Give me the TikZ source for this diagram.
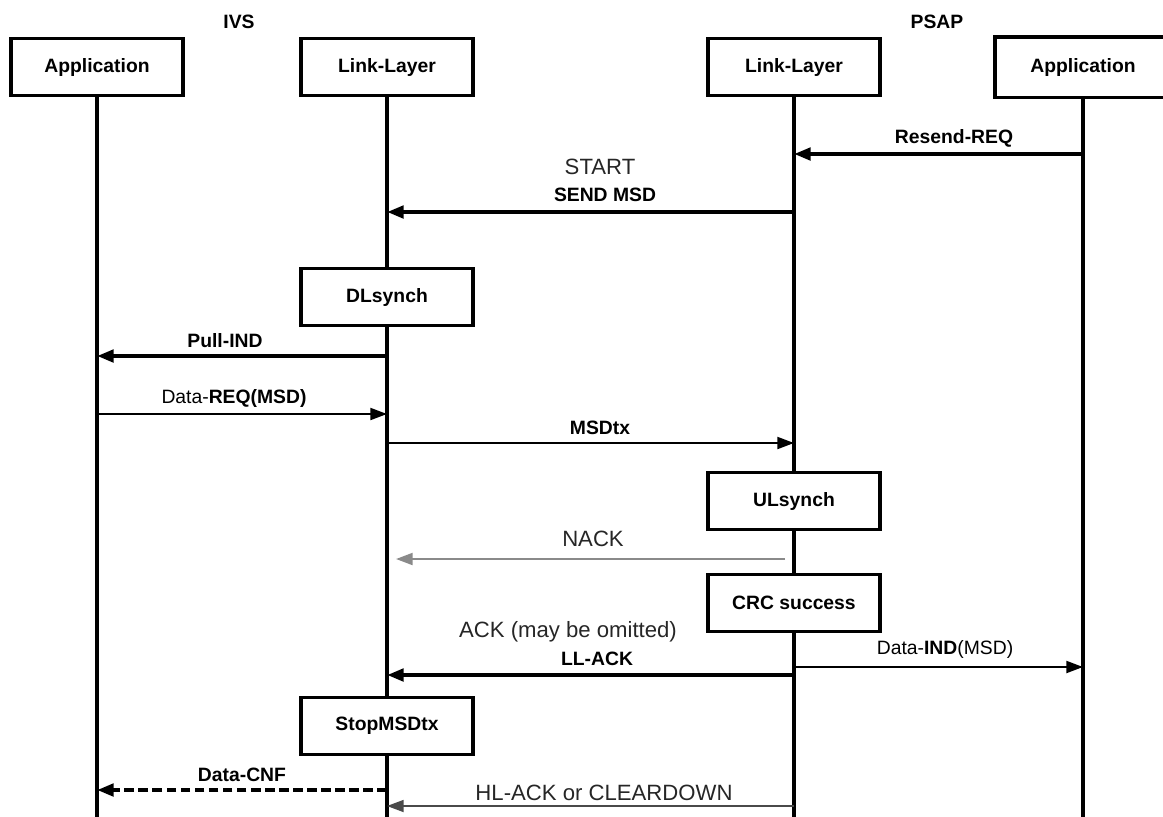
\documentclass[tikz,border=0pt]{standalone}
\usepackage{fontspec}
\setmainfont{Liberation Sans}
\usepackage{tikz}
\usetikzlibrary{calc,positioning,arrows.meta}
\usepackage{xcolor}
\definecolor{nackgray}{HTML}{8A8A8A}
\definecolor{hlgray}{HTML}{4A4A4A}
\definecolor{txtgray}{HTML}{262626}

\tikzset{
  layerbox/.style={draw, line width=2pt, fill=white, minimum width=3.45cm,
    minimum height=1.14cm, font=\bfseries\fontsize{11}{13}\selectfont},
  lifeline/.style={line width=2pt},
  msgthick/.style={line width=2.3pt, -{Triangle[length=9.5pt,width=7pt]}},
  msgthin/.style={line width=1.3pt, -{Triangle[length=9.5pt,width=6.8pt]}},
  lbl/.style={font=\bfseries\fontsize{11}{13}\selectfont, inner sep=0pt},
  lblreg/.style={font=\fontsize{12.6}{14}\selectfont, text=txtgray, inner sep=0pt}
}

\begin{document}
\begin{tikzpicture}[x=0.02cm, y=-0.02cm]
\clip (0,0) rectangle (1163,816);

%====================================================
% ENTIDADES Y LINEAS DE VIDA
%====================================================
\node[lbl] (ivs) at (239,22) {IVS};
\node[lbl] (psap) at (937,22) {PSAP};

\node[layerbox] (appI) at (97,67) {Application};
\node[layerbox] (llI) at (387,67) {Link-Layer};
\node[layerbox] (llP) at (794,67) {Link-Layer};
\node[layerbox, draw=none] (appP) at (1083,67) {Application};
\draw[line width=2pt] (appP.north west) rectangle ([xshift=0.5cm]appP.south east);

\coordinate (appIend) at (97,820);
\coordinate (llIend) at (387,820);
\coordinate (llPend) at (794,820);
\coordinate (appPend) at (1083,820);

\draw[lifeline] (appI.south) -- (appIend);
\draw[lifeline] (llI.south) -- (llIend);
\draw[lifeline] (llP.south) -- (llPend);
\draw[lifeline] (appP.south) -- (appPend);

%====================================================
% ESTADOS
%====================================================
\node[layerbox] (dlsynch) at (387,297) {DLsynch};
\node[layerbox] (ulsynch) at (794,501) {ULsynch};
\node[layerbox] (crc) at (794,603) {CRC success};
\node[layerbox] (stopmsd) at (387,726) {StopMSDtx};

%====================================================
% MENSAJES
%====================================================
\coordinate (resendA) at (1083,154); \coordinate (resendB) at (794,154);
\coordinate (sendA) at (794,212);    \coordinate (sendB) at (387,212);
\coordinate (pullA) at (387,356);    \coordinate (pullB) at (97,356);
\coordinate (dreqA) at (97,414);     \coordinate (dreqB) at (387,414);
\coordinate (msdtxA) at (387,443);   \coordinate (msdtxB) at (794,443);
\coordinate (nackA) at (785,559);    \coordinate (nackB) at (396,559);
\coordinate (dindA) at (794,667);    \coordinate (dindB) at (1083,667);
\coordinate (llackA) at (794,675);   \coordinate (llackB) at (387,675);
\coordinate (cnfA) at (387,790);     \coordinate (cnfB) at (97,790);
\coordinate (hlackA) at (794,806);   \coordinate (hlackB) at (387,806);

\draw[msgthick] (resendA) -- (resendB);
\draw[msgthick] (sendA) -- (sendB);
\draw[msgthick] (pullA) -- (pullB);
\draw[msgthin] (dreqA) -- (dreqB);
\draw[msgthin] (msdtxA) -- (msdtxB);
\draw[msgthin, nackgray] (nackA) -- (nackB);
\draw[msgthin] (dindA) -- (dindB);
\draw[msgthick] (llackA) -- (llackB);
\draw[msgthick, dash pattern=on 5.5pt off 2.5pt] (cnfA) -- (cnfB);
\draw[msgthin, hlgray, line width=1.1pt] (hlackA) -- (hlackB);

% etiquetas
\node[lbl] (resendL) at (954,138) {Resend-REQ};
\node[lblreg] (startL) at (600,167) {START};
\node[lbl] (sendL) at (605,195) {SEND MSD};
\node[lbl] (pullL) at (225,341) {Pull-IND};
\node[lbl] (dreqL) at (234,398) {\mdseries Data-\bfseries REQ(MSD)};
\node[lbl] (msdtxL) at (600,428) {MSDtx};
\node[lblreg] (nackL) at (593,539) {NACK};
\node[lblreg] (ackL) at (568,632) {ACK (may be omitted)};
\node[lbl] (llackL) at (597,659) {LL-ACK};
\node[lbl] (dindL) at (945,649) {\mdseries Data-\bfseries IND\mdseries (MSD)};
\node[lbl] (cnfL) at (242,775) {Data-CNF};
\node[lblreg] (hlackL) at (604,793) {HL-ACK or CLEARDOWN};
\end{tikzpicture}
\end{document}
